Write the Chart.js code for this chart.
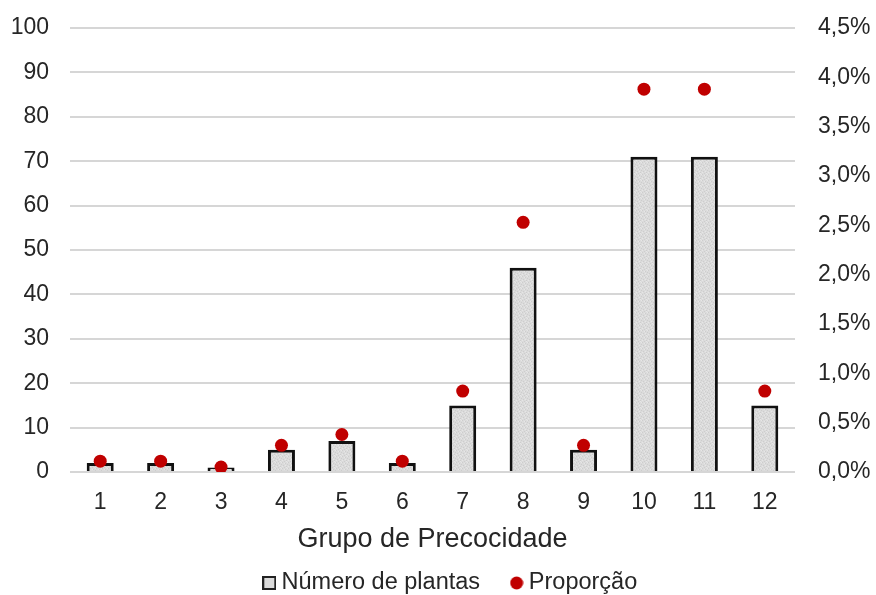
<!DOCTYPE html>
<html>
<head>
<meta charset="utf-8">
<script src="https://cdn.jsdelivr.net/npm/chart.js@4/dist/chart.umd.min.js"></script>
<style>
  html, body { margin: 0; padding: 0; background: #ffffff; }
  #wrap { width: 876px; height: 595px; }
</style>
</head>
<body>
<div id="wrap"><canvas id="c" width="876" height="595"></canvas></div>
<script>
// Grupos de precocidade (eixo X)
const grupos = ['1', '2', '3', '4', '5', '6', '7', '8', '9', '10', '11', '12'];
// Número de plantas por grupo (eixo esquerdo)
const numeroPlantas = [2, 2, 1, 5, 7, 2, 15, 46, 5, 71, 71, 15];
// Proporção por grupo, em fração (eixo direito)
const proporcao = [0.0011, 0.0011, 0.0005, 0.0027, 0.0038, 0.0011, 0.0082, 0.0253, 0.0027, 0.0388, 0.0388, 0.0082];

const FONT = "'Liberation Sans', Arial, sans-serif";
const TXT = '#262626';
const RED = '#c00000';
Chart.defaults.font.family = FONT;
Chart.defaults.color = TXT;

function fmtPct(v) {
  return (v * 100).toFixed(1).replace('.', ',') + '%';
}

// Light grey speckled fill for the bars
function speckle() {
  const c = document.createElement('canvas');
  c.width = 6; c.height = 6;
  const g = c.getContext('2d');
  g.fillStyle = '#dbdbdb';
  g.fillRect(0, 0, 6, 6);
  const dark = [[0, 0], [3, 1], [1, 3], [4, 4], [5, 2], [2, 5]];
  const light = [[2, 1], [5, 0], [0, 4], [3, 3], [4, 5]];
  g.fillStyle = '#cdcdcd';
  dark.forEach(([x, y]) => g.fillRect(x, y, 1, 1));
  g.fillStyle = '#e6e6e6';
  light.forEach(([x, y]) => g.fillRect(x, y, 1, 1));
  return g.createPattern(c, 'repeat');
}
const barFill = speckle();

// Legend symbols
function legendSquare() {
  const c = document.createElement('canvas');
  c.width = 14; c.height = 14;
  const g = c.getContext('2d');
  g.fillStyle = '#dbdbdb';
  g.fillRect(1, 1, 12, 12);
  g.strokeStyle = '#222222';
  g.lineWidth = 2;
  g.strokeRect(1, 1, 12, 12);
  return c;
}
function legendDot() {
  const c = document.createElement('canvas');
  c.width = 14; c.height = 14;
  const g = c.getContext('2d');
  g.fillStyle = RED;
  g.beginPath();
  g.arc(7, 7, 6.5, 0, Math.PI * 2);
  g.fill();
  return c;
}
const symSquare = legendSquare();
const symDot = legendDot();

const LEGEND_PAD = 36;
const LEGEND_FONT = 23.5;
// Keeps the legend compact and places it on its own line under the axis title
const legendPlacer = {
  id: 'legendPlacer',
  afterInit(chart) {
    const lg = chart.legend;
    const fit = lg.fit.bind(lg);
    lg.fit = function () { fit(); this.height = 30; };
  },
  afterLayout(chart) {
    const lg = chart.legend;
    lg.top = 583 - LEGEND_PAD - LEGEND_FONT / 2;
    lg.bottom = chart.height;
    lg.height = lg.bottom - lg.top;
    lg.left += 15;
    lg.right += 15;
  }
};

// Vertical axes: fixed width, no extra top/bottom reserve for the end labels
function fixSide(width) {
  return function (s) {
    s.width = width;
    s.paddingTop = 0;
    s.paddingBottom = 0;
  };
}

new Chart(document.getElementById('c'), {
  data: {
    labels: grupos,
    datasets: [
      {
        type: 'scatter',
        label: 'Proporção',
        data: proporcao,
        yAxisID: 'y2',
        backgroundColor: RED,
        borderColor: RED,
        borderWidth: 0,
        pointRadius: 6.5,
        pointHoverRadius: 6.5,
        showLine: false,
        order: 0
      },
      {
        type: 'bar',
        label: 'Número de plantas',
        data: numeroPlantas,
        yAxisID: 'y',
        backgroundColor: barFill,
        borderColor: '#111111',
        borderWidth: 3,
        categoryPercentage: 1,
        barPercentage: 0.447,
        order: 1
      }
    ]
  },
  plugins: [legendPlacer],
  options: {
    responsive: false,
    animation: false,
    layout: { padding: { top: 28, left: 0, right: 0, bottom: 0 } },
    plugins: {
      tooltip: { enabled: false },
      legend: {
        position: 'bottom',
        labels: {
          font: { size: LEGEND_FONT },
          color: TXT,
          usePointStyle: true,
          boxWidth: 1,
          boxHeight: LEGEND_FONT,
          padding: LEGEND_PAD,
          generateLabels(chart) {
            const items = Chart.defaults.plugins.legend.labels.generateLabels(chart);
            return items.slice().reverse().map(it => {
              it.pointStyle = it.text === 'Proporção' ? symDot : symSquare;
              return it;
            });
          }
        }
      }
    },
    scales: {
      x: {
        type: 'category',
        offset: true,
        grid: { display: false, drawTicks: false },
        border: { display: false },
        ticks: { font: { size: 23 }, color: TXT, padding: 17, maxRotation: 0 },
        title: {
          display: true,
          text: 'Grupo de Precocidade',
          font: { size: 27 },
          color: TXT,
          padding: { top: 0, bottom: 9 }
        },
        afterFit(s) { s.height = 93; }
      },
      y: {
        position: 'left',
        min: 0,
        max: 100,
        ticks: { stepSize: 10, font: { size: 23 }, color: TXT, padding: 21 },
        grid: { color: '#d6d6d6', lineWidth: 2, drawTicks: false },
        border: { display: false },
        afterFit: fixSide(70)
      },
      y2: {
        position: 'right',
        min: 0,
        max: 0.045,
        ticks: {
          stepSize: 0.005,
          font: { size: 23 },
          color: TXT,
          padding: 23,
          callback: v => fmtPct(v)
        },
        grid: { display: false, drawTicks: false },
        border: { display: false },
        afterFit: fixSide(81)
      }
    }
  }
});
</script>
</body>
</html>
